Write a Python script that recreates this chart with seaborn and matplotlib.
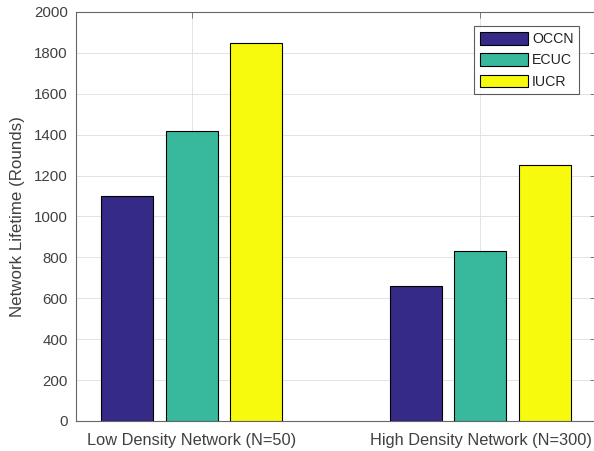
import pandas as pd
import seaborn as sns
import matplotlib.pyplot as plt

groups = ["Low Density Network (N=50)", "High Density Network (N=300)"]
protocols = ["OCCN", "ECUC", "IUCR"]
occn = [1100, 660]
ecuc = [1420, 830]
iucr = [1850, 1250]

rows = []
for i, g in enumerate(groups):
    rows.append((g, "OCCN", occn[i]))
    rows.append((g, "ECUC", ecuc[i]))
    rows.append((g, "IUCR", iucr[i]))
df = pd.DataFrame(rows, columns=["Group", "Protocol", "Lifetime"])

sns.set_style("white")
plt.rcParams["font.family"] = ["Liberation Sans", "DejaVu Sans"]

fig = plt.figure(figsize=(5.94, 4.51), dpi=100)
ax = fig.add_axes([76 / 594, 30 / 451, 520 / 594, 409 / 451])

colors = ["#352a87", "#38b99e", "#f8fa0d"]
sns.barplot(data=df, x="Group", y="Lifetime", hue="Protocol", hue_order=protocols,
            order=groups, palette=colors, saturation=1, width=0.667, gap=0.19,
            edgecolor="black", linewidth=0.8, ax=ax, zorder=3)

txt = "#404040"
ax.set_xlim(-0.4, 1.4)
ax.set_ylim(0, 2000)
ax.set_yticks(range(0, 2001, 200))
ax.set_xlabel("")
ax.set_ylabel("Network Lifetime (Rounds)", fontsize=12.2, color=txt, labelpad=6)
ax.grid(True, color="#e3e3e3", linewidth=0.7, zorder=0)
ax.set_axisbelow(True)
ax.tick_params(direction="in", length=4, colors="#666666", labelcolor=txt,
               top=True, right=True, width=0.6)
ax.tick_params(axis="y", labelsize=10.8, pad=6)
ax.tick_params(axis="x", labelsize=11.8, pad=9)
for s in ax.spines.values():
    s.set_color("#666666")
    s.set_linewidth(0.8)

leg = ax.legend(loc="upper right", bbox_to_anchor=(0.968, 0.965), fontsize=10.2,
                frameon=True, fancybox=False, edgecolor="#333333",
                handlelength=3.4, handleheight=1.0, handletextpad=0.3,
                labelspacing=0.5, borderpad=0.4, borderaxespad=0)
leg.get_frame().set_linewidth(0.8)
for t in leg.get_texts():
    t.set_color("#222222")

fig.savefig("out.png", dpi=100)
